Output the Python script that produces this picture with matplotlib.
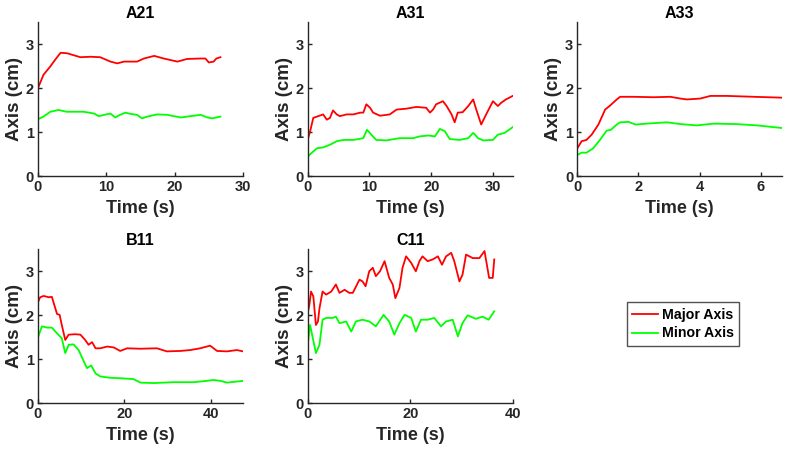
import matplotlib
matplotlib.use("Agg")
import matplotlib.pyplot as plt

plt.rcParams['font.family'] = ['Liberation Sans', 'DejaVu Sans']
plt.rcParams['font.weight'] = 'bold'

titles = ["A21", "A31", "A33", "B11", "C11"]
xlims = [30, 33.2, 6.7, 47.4, 40]
xticks = [[0, 10, 20, 30], [0, 10, 20, 30], [0, 2, 4, 6], [0, 20, 40], [0, 20, 40]]

# A21
a21_major_t = [0, 0.8, 1.8, 2.5, 3.3, 4.25, 6.2, 7.7, 9.1, 10.6, 11.6, 12.6, 14.5, 15.5, 17, 18.4, 20.4, 21.8, 23.8, 24.5, 25, 25.7, 26.1, 26.7]
a21_major_v = [2.0, 2.3, 2.49, 2.64, 2.8, 2.79, 2.7, 2.71, 2.70, 2.6, 2.56, 2.6, 2.6, 2.67, 2.73, 2.67, 2.6, 2.66, 2.67, 2.67, 2.58, 2.6, 2.67, 2.7]
a21_minor_t = [0, 0.8, 1.8, 3, 4.2, 6.7, 8.2, 8.9, 9.7, 10.6, 11.3, 12, 12.8, 13.6, 14.5, 15.2, 16, 17.4, 18.9, 19.9, 20.9, 22.3, 23.8, 24.8, 25.5, 26.7]
a21_minor_v = [1.29, 1.35, 1.46, 1.5, 1.46, 1.46, 1.42, 1.36, 1.39, 1.42, 1.33, 1.39, 1.44, 1.41, 1.39, 1.31, 1.35, 1.4, 1.39, 1.36, 1.33, 1.36, 1.39, 1.33, 1.31, 1.35]

# A31
a31_major_t = [0, 0.4, 0.9, 1.7, 2.5, 3.1, 3.6, 4.1, 4.7, 5.2, 6.3, 7.4, 8.5, 9.0, 9.5, 10.1, 10.6, 11.7, 13.3, 14.4, 16, 17.6, 19.2, 19.8, 20.3, 20.8, 21.9, 22.5, 23.3, 23.8, 24.3, 25.1, 26, 26.8, 27.3, 28.1, 28.9, 30, 30.8, 31.3, 32.1, 33.2]
a31_major_v = [0.82, 1.02, 1.32, 1.36, 1.4, 1.28, 1.32, 1.49, 1.4, 1.36, 1.4, 1.4, 1.44, 1.44, 1.63, 1.55, 1.44, 1.37, 1.4, 1.51, 1.53, 1.57, 1.55, 1.44, 1.51, 1.63, 1.7, 1.59, 1.4, 1.22, 1.44, 1.45, 1.59, 1.74, 1.51, 1.17, 1.4, 1.7, 1.59, 1.66, 1.74, 1.82]
a31_minor_t = [0, 0.6, 1.5, 2.5, 3.6, 4.7, 5.8, 7.4, 9, 9.6, 10.3, 11.1, 12.8, 14.9, 17.1, 18.1, 19.6, 20.6, 21.4, 22.2, 23, 24.6, 26, 26.8, 27.6, 28.4, 30, 30.8, 31.9, 33.2]
a31_minor_v = [0.44, 0.52, 0.63, 0.65, 0.71, 0.79, 0.82, 0.82, 0.86, 1.05, 0.94, 0.82, 0.81, 0.86, 0.86, 0.9, 0.92, 0.9, 1.07, 1.02, 0.84, 0.82, 0.86, 0.98, 0.86, 0.81, 0.82, 0.94, 0.98, 1.11]

# A33
a33_major_t = [0, 0.14, 0.3, 0.47, 0.69, 0.91, 1.07, 1.29, 1.4, 1.84, 2.5, 3.04, 3.37, 3.58, 4.02, 4.35, 4.9, 5.77, 6.7]
a33_major_v = [0.63, 0.79, 0.82, 0.94, 1.17, 1.51, 1.6, 1.74, 1.8, 1.8, 1.79, 1.8, 1.76, 1.74, 1.76, 1.82, 1.82, 1.8, 1.78]
a33_minor_t = [0, 0.14, 0.3, 0.52, 0.74, 0.96, 1.1, 1.29, 1.4, 1.67, 1.9, 2.27, 2.93, 3.37, 3.9, 4.46, 5.2, 5.88, 6.7]
a33_minor_v = [0.48, 0.53, 0.53, 0.63, 0.82, 1.03, 1.05, 1.17, 1.22, 1.23, 1.17, 1.19, 1.22, 1.18, 1.15, 1.19, 1.18, 1.15, 1.09]

# B11
b11_major_t = [0, 0.5, 1.3, 2.5, 3.2, 4, 4.4, 5, 5.5, 6.3, 7.1, 8.6, 9.8, 10.9, 11.7, 12.5, 13.3, 14.4, 16, 17.5, 19, 20.6, 23.7, 27.5, 29.8, 32.9, 35.2, 37.5, 39.8, 41.4, 43.7, 46, 47.4]
b11_major_v = [2.3, 2.41, 2.44, 2.41, 2.42, 2.16, 2.03, 2.01, 1.78, 1.44, 1.56, 1.57, 1.56, 1.44, 1.33, 1.39, 1.25, 1.25, 1.29, 1.27, 1.19, 1.25, 1.24, 1.25, 1.18, 1.19, 1.21, 1.25, 1.31, 1.19, 1.18, 1.21, 1.18]
b11_minor_t = [0, 0.9, 2.1, 3.2, 4.4, 5.5, 6.3, 7.1, 8.2, 9.4, 10.6, 11.3, 12.3, 13.3, 14.4, 16.7, 19, 22.1, 23.7, 26.7, 31.4, 36, 39, 40.6, 42.2, 43.7, 47.4]
b11_minor_v = [1.5, 1.75, 1.72, 1.72, 1.59, 1.48, 1.14, 1.33, 1.34, 1.21, 0.95, 0.8, 0.86, 0.68, 0.61, 0.58, 0.57, 0.55, 0.47, 0.46, 0.48, 0.48, 0.51, 0.53, 0.51, 0.47, 0.51]

# C11
c11_major_t = [0, 0.33, 0.65, 1.1, 1.6, 2, 2.3, 2.9, 3.6, 4.6, 5.5, 6.2, 7.2, 8.1, 8.8, 10.1, 10.7, 11.3, 12, 12.7, 13.3, 14.1, 15, 15.9, 16.6, 17.1, 17.9, 18.5, 19.2, 20.2, 21.1, 21.8, 22.4, 23.4, 24.4, 25.4, 26.2, 27, 28, 28.6, 29.6, 30.2, 30.9, 32.2, 33.5, 34.5, 35.4, 36.1, 36.4]
c11_major_v = [2.05, 2.24, 2.54, 2.43, 1.78, 1.86, 2.16, 2.54, 2.47, 2.54, 2.7, 2.51, 2.58, 2.51, 2.51, 2.81, 2.77, 2.66, 3.0, 3.08, 2.89, 3.0, 3.23, 2.85, 2.7, 2.39, 2.62, 3.08, 3.34, 3.19, 3.0, 3.23, 3.34, 3.23, 3.27, 3.34, 3.15, 3.34, 3.42, 3.23, 2.77, 2.92, 3.38, 3.3, 3.3, 3.46, 2.85, 2.85, 3.27]
c11_minor_t = [0, 0.46, 1, 1.6, 2.3, 2.9, 3.6, 4.9, 5.5, 6.2, 7.5, 8.5, 9.4, 10.7, 12, 13.3, 14.8, 15.9, 16.9, 17.9, 18.9, 20.2, 21.1, 22.1, 23.4, 24.7, 26, 27, 28.3, 29.3, 30.2, 31.2, 32.8, 34.1, 35.3, 36.4]
c11_minor_v = [1.33, 1.78, 1.48, 1.14, 1.33, 1.9, 1.94, 1.94, 1.97, 1.82, 1.86, 1.63, 1.86, 1.9, 1.86, 1.75, 2.01, 1.86, 1.56, 1.82, 2.01, 1.94, 1.63, 1.9, 1.9, 1.94, 1.75, 1.86, 1.9, 1.52, 1.82, 2.0, 1.92, 1.97, 1.9, 2.09]

major = [(a21_major_t, a21_major_v), (a31_major_t, a31_major_v), (a33_major_t, a33_major_v),
         (b11_major_t, b11_major_v), (c11_major_t, c11_major_v)]
minor = [(a21_minor_t, a21_minor_v), (a31_minor_t, a31_minor_v), (a33_minor_t, a33_minor_v),
         (b11_minor_t, b11_minor_v), (c11_minor_t, c11_minor_v)]

W, H = 788, 453
fig = plt.figure(figsize=(W / 100, H / 100), dpi=100)
lefts = [38, 307.7, 577.3, 38, 307.7]
bottoms = [176, 176, 176, 403.3, 403.3]
aw, ah = 205, 154
tc = '#262626'

handles = None
for i in range(5):
    ax = fig.add_axes([lefts[i] / W, (H - bottoms[i]) / H, aw / W, ah / H])
    l1, = ax.plot(major[i][0], major[i][1], color='#ff0000', lw=1.3, label='Major Axis')
    l2, = ax.plot(minor[i][0], minor[i][1], color='#00ff00', lw=1.3, label='Minor Axis')
    handles = [l1, l2]
    ax.set_xlim(0, xlims[i])
    ax.set_ylim(0, 3.5)
    ax.set_xticks(xticks[i])
    ax.set_yticks([0, 1, 2, 3])
    for s in ['top', 'right']:
        ax.spines[s].set_visible(False)
    for s in ['left', 'bottom']:
        ax.spines[s].set_color(tc)
        ax.spines[s].set_linewidth(1.0)
    ax.tick_params(direction='in', length=3, width=1.0, color=tc, labelcolor=tc,
                   labelsize=10.5, pad=3)
    for lab in ax.get_xticklabels() + ax.get_yticklabels():
        lab.set_fontweight('bold')
    ax.set_xlabel('Time (s)', fontsize=13, fontweight='bold', color=tc, labelpad=4)
    ax.set_ylabel('Axis (cm)', fontsize=13.5, fontweight='bold', color=tc, labelpad=2)
    ax.set_title(titles[i], fontsize=11.5, fontweight='bold', color='black', pad=3)

fig.legend(handles, ['Major Axis', 'Minor Axis'], loc='center',
           bbox_to_anchor=(683 / W, (H - 324) / H), frameon=True, fancybox=False,
           edgecolor=tc, handlelength=1.8, handletextpad=0.25,
           borderpad=0.4, labelspacing=0.35, borderaxespad=0,
           prop={'weight': 'bold', 'size': 10.2})

fig.savefig('out.png', dpi=100)
